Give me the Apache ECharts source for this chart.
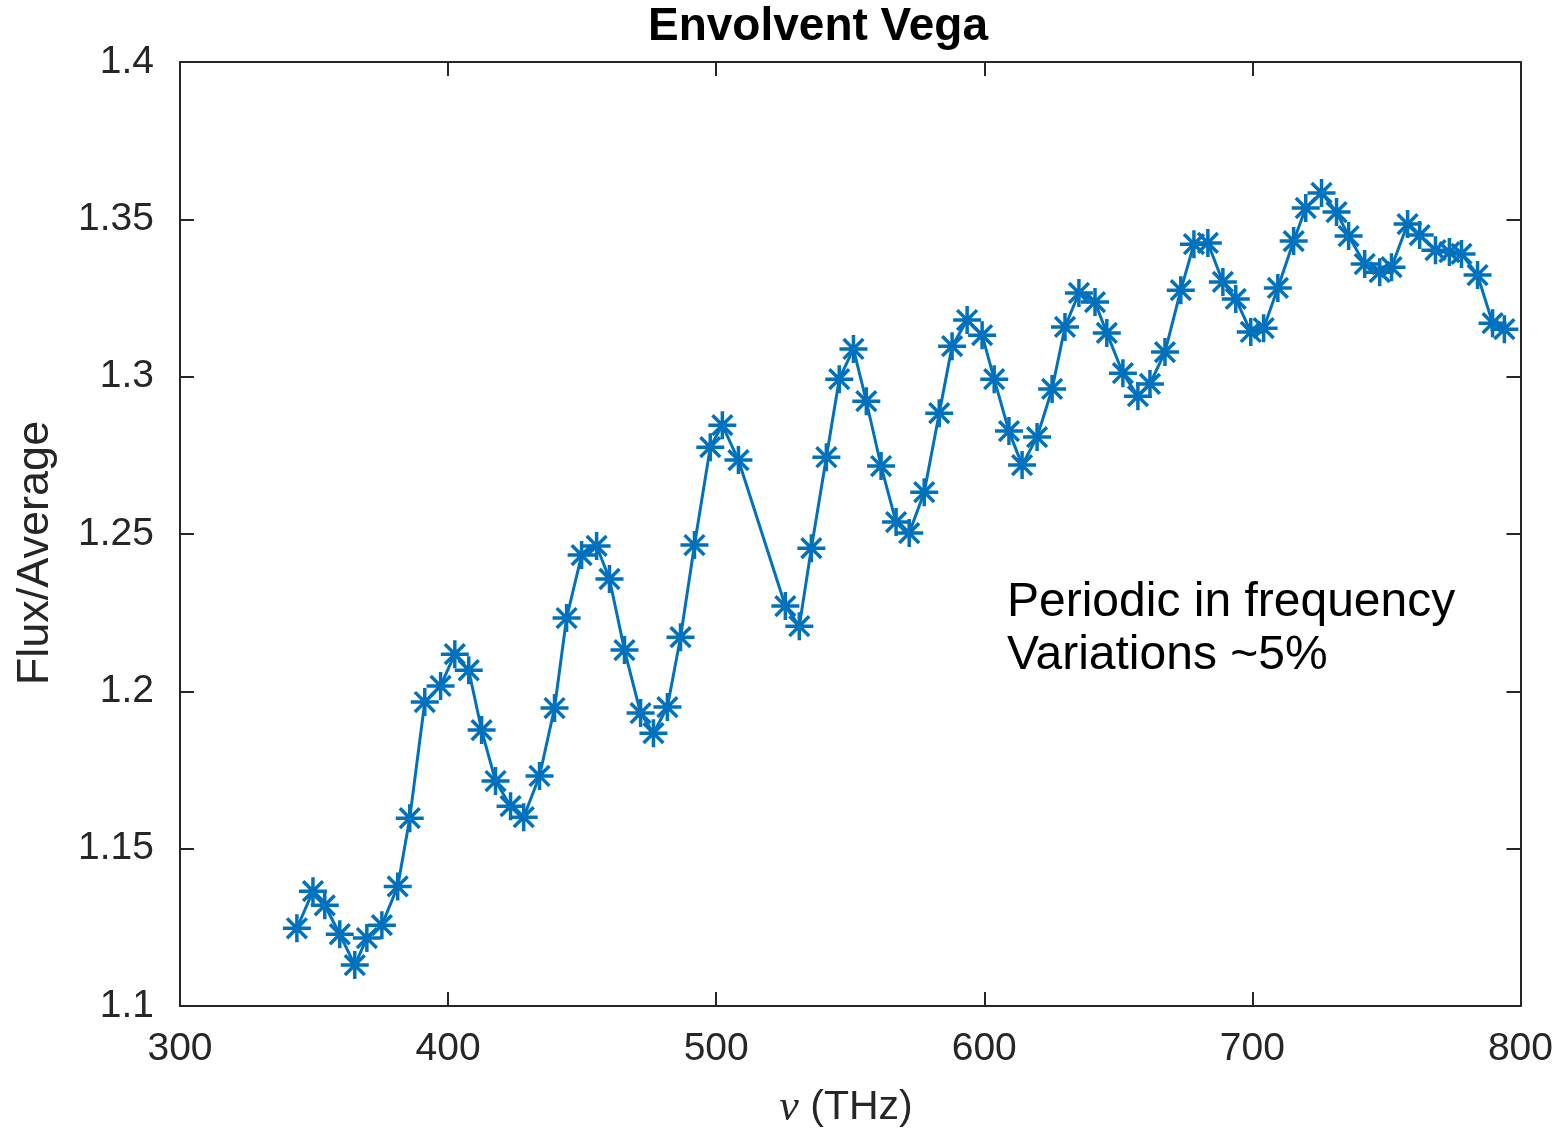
<!DOCTYPE html>
<html>
<head>
<meta charset="utf-8">
<script src="https://cdn.jsdelivr.net/npm/echarts@6/dist/echarts.min.js"></script>
<style>
html,body{margin:0;padding:0;background:#fff;}
#main{width:1556px;height:1134px;}
</style>
</head>
<body>
<div id="main"></div>
<script>
// ---- data ----
const freqTHz = [343.6,349.6,354.0,359.6,365.2,369.7,375.3,381.2,385.7,391.3,397.2,402.5,407.7,412.5,417.7,423.3,428.2,434.1,439.7,444.2,449.8,455.4,460.2,465.8,471.8,476.6,481.8,486.7,491.9,497.8,502.3,508.3,
  525.8,531.0,535.5,541.1,545.9,551.2,556.0,561.5,567.1,572.0,577.6,583.2,588.0,593.6,599.2,603.7,609.2,614.1,619.7,625.3,630.1,635.3,641.3,645.7,651.7,657.3,661.8,667.4,673.3,678.2,683.4,689.0,693.8,699.4,704.2,709.5,715.4,719.9,725.8,731.4,735.9,741.9,747.5,751.9,757.9,762.4,768.3,773.5,778.0,784.0,789.6,794.0];
const fluxAvg = [1.1247,1.1365,1.1320,1.1228,1.1130,1.1216,1.1257,1.1380,1.1597,1.1966,1.2017,1.2118,1.2067,1.1877,1.1715,1.1635,1.1600,1.1731,1.1947,1.2233,1.2433,1.2462,1.2357,1.2131,1.1931,1.1867,1.1950,1.2172,1.2465,1.2776,1.2846,1.2735,
  1.2271,1.2207,1.2455,1.2744,1.2992,1.3088,1.2922,1.2716,1.2538,1.2503,1.2633,1.2884,1.3097,1.3180,1.3132,1.2992,1.2827,1.2719,1.2808,1.2961,1.3158,1.3266,1.3237,1.3139,1.3011,1.2938,1.2977,1.3078,1.3275,1.3421,1.3425,1.3301,1.3247,1.3142,1.3154,1.3282,1.3431,1.3536,1.3584,1.3523,1.3447,1.3358,1.3332,1.3348,1.3485,1.3450,1.3402,1.3396,1.3390,1.3323,1.3170,1.3151];
const xTicks = [300, 400, 500, 600, 700, 800];
const yTicks = [1.1, 1.15, 1.2, 1.25, 1.3, 1.35, 1.4];
const titleText = 'Envolvent Vega';
const yName = 'Flux/Average';
const xNameSymbol = 'ν';
const xNameUnit = ' (THz)';
const noteLines = ['Periodic in frequency', 'Variations ~5%'];

// ---- chart ----
const FONT = '"Liberation Sans", Arial, Helvetica, sans-serif';
const SERIF = '"Liberation Serif", "DejaVu Serif", serif';
const AX = '#262626';
const BLUE = '#0072BD';
const points = freqTHz.map((f, i) => [f, fluxAvg[i]]);
const asterisk = 'path://M10,0L10,20M0,10L20,10M2.93,2.93L17.07,17.07M2.93,17.07L17.07,2.93';

const axisCommon = {
  axisLine: {show: true, onZero: false, lineStyle: {color: AX, width: 2}},
  axisTick: {show: true, inside: true, length: 14, lineStyle: {color: AX, width: 2}},
  splitLine: {show: false}
};

const chart = echarts.init(document.getElementById('main'), null, {renderer: 'canvas'});
chart.setOption({
  animation: false,
  backgroundColor: '#fff',
  grid: {left: 180, right: 34, top: 62, bottom: 128, containLabel: false},
  xAxis: [
    Object.assign({
      type: 'value', min: xTicks[0], max: xTicks[xTicks.length - 1], interval: 100, position: 'bottom',
      axisLabel: {color: AX, fontFamily: FONT, fontSize: 39, margin: 24}
    }, axisCommon),
    Object.assign({
      type: 'value', min: xTicks[0], max: xTicks[xTicks.length - 1], interval: 100, position: 'top',
      axisLabel: {show: false}
    }, axisCommon)
  ],
  yAxis: [
    Object.assign({
      type: 'value', min: yTicks[0], max: yTicks[yTicks.length - 1], interval: 0.05, position: 'left',
      axisLabel: {color: AX, fontFamily: FONT, fontSize: 39, margin: 26,
        formatter: v => String(parseFloat(v.toFixed(2)))}
    }, axisCommon),
    Object.assign({
      type: 'value', min: yTicks[0], max: yTicks[yTicks.length - 1], interval: 0.05, position: 'right',
      axisLabel: {show: false}
    }, axisCommon)
  ],
  series: [{
    type: 'line',
    data: points,
    xAxisIndex: 0, yAxisIndex: 0,
    lineStyle: {color: BLUE, width: 3},
    symbol: asterisk,
    symbolSize: 28,
    showAllSymbol: true,
    itemStyle: {color: 'rgba(0,0,0,0)', borderColor: BLUE, borderWidth: 3.5},
    emphasis: {disabled: true}
  }],
  graphic: [
    {type: 'text', x: 818, y: 27, style: {text: titleText, fill: '#000', font: 'bold 46px ' + FONT, textAlign: 'center', textVerticalAlign: 'middle'}},
    {type: 'text', x: 1007, y: 576, style: {text: noteLines.join('\n'), fill: '#000', font: '48px ' + FONT, lineHeight: 53, textAlign: 'left', textVerticalAlign: 'top'}},
    {type: 'text', x: 36, y: 553, rotation: Math.PI / 2, style: {text: yName, fill: AX, font: '45px ' + FONT, textAlign: 'center', textVerticalAlign: 'middle'}},
    {type: 'text', x: 846, y: 1108, style: {
      text: '{nu|' + xNameSymbol + '}{u|' + xNameUnit + '}', textAlign: 'center', textVerticalAlign: 'middle',
      rich: {
        nu: {fill: AX, fontFamily: SERIF, fontStyle: 'italic', fontSize: 44},
        u: {fill: AX, fontFamily: FONT, fontSize: 41}
      }}}
  ]
});
</script>
</body>
</html>
